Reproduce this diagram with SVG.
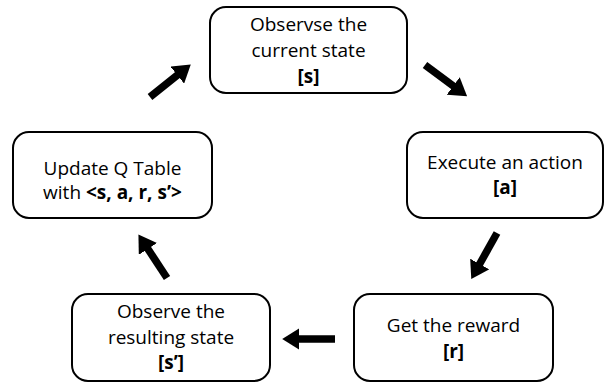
<svg xmlns="http://www.w3.org/2000/svg" width="605" height="383" viewBox="0 0 605 383">
<defs>
<style>
.box{fill:#fff;stroke:#000;stroke-width:2}
.t{font-family:"Open Sans","Noto Sans",sans-serif;font-size:19px;fill:#000;text-anchor:middle}
.b{font-weight:bold}
.arr{stroke:#000;stroke-width:7.5;fill:none;marker-end:url(#ah)}
</style>
<marker id="ah" viewBox="0 0 10 10" refX="2" refY="5" markerWidth="2.3" markerHeight="2.9" orient="auto" markerUnits="strokeWidth" preserveAspectRatio="none">
<path d="M0,0 L10,5 L0,10 z" fill="#000"/>
</marker>
</defs>
<rect width="605" height="383" fill="#fff"/>
<g id="observe-current">
<rect class="box" x="210" y="7" width="197" height="86" rx="16"/>
<text class="t" x="308.5" y="31">Observse the</text>
<text class="t" x="308.5" y="57">current state</text>
<text class="t b" x="308.5" y="83">[s]</text>
</g>
<g id="execute-action">
<rect class="box" x="407" y="132" width="196" height="86" rx="16"/>
<text class="t" x="505" y="169">Execute an action</text>
<text class="t b" x="505" y="194">[a]</text>
</g>
<g id="get-reward">
<rect class="box" x="354" y="294" width="199" height="87" rx="16"/>
<text class="t" x="453.5" y="332">Get the reward</text>
<text class="t b" x="453.5" y="358">[r]</text>
</g>
<g id="observe-resulting">
<rect class="box" x="72" y="294" width="198" height="87" rx="16"/>
<text class="t" x="171" y="318">Observe the</text>
<text class="t" x="171" y="344">resulting state</text>
<text class="t b" x="171" y="369">[s’]</text>
</g>
<g id="update-q">
<rect class="box" x="13" y="132" width="199" height="86" rx="16"/>
<text class="t" x="112.5" y="175">Update Q Table</text>
<text class="t" x="112.5" y="199">with <tspan class="b">&lt;s, a, r, s’&gt;</tspan></text>
</g>
<g id="connectors">
<line class="arr" x1="150" y1="97" x2="180" y2="73"/>
<line class="arr" x1="425" y1="65" x2="456" y2="88"/>
<line class="arr" x1="497" y1="233" x2="478" y2="267"/>
<line class="arr" x1="335" y1="339" x2="296" y2="339"/>
<line class="arr" x1="167" y1="278" x2="146" y2="246"/>
</g>
</svg>
